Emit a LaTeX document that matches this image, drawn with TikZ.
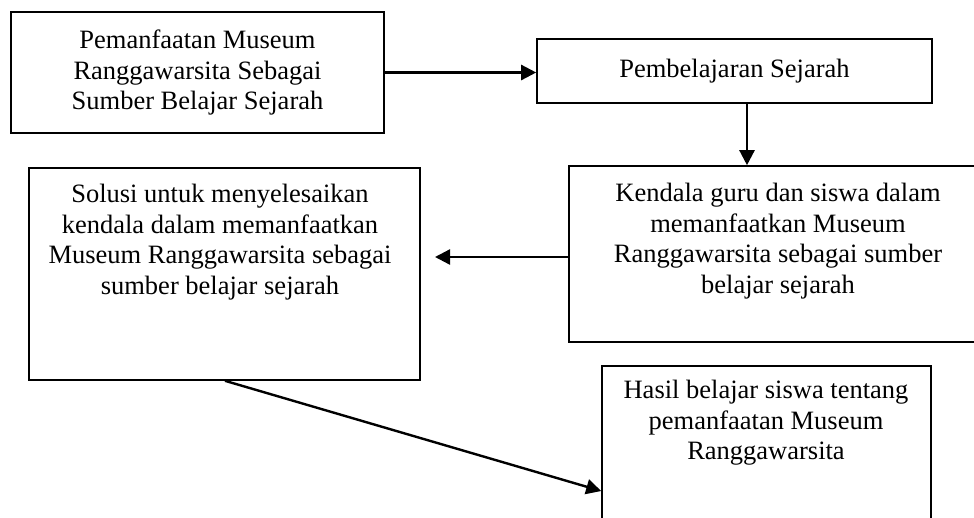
\documentclass[tikz,border=0pt]{standalone}
\usepackage{fontspec}
\setmainfont{Liberation Serif}
\usetikzlibrary{arrows.meta}
\begin{document}
\begin{tikzpicture}[x=1pt,y=-1pt,
  box/.style={draw, line width=1.6pt, inner sep=0pt, align=center,
    font=\fontsize{26.5pt}{30.5pt}\selectfont},
  txt/.style={inner sep=0pt, align=center, font=\fontsize{26.5pt}{30.5pt}\selectfont},
  arr/.style={line width=2.4pt, -{Triangle[length=15pt,width=15pt]}}]
\useasboundingbox (0,0) rectangle (974,517);
\clip (0,0) rectangle (974,517);
\node[box, minimum width=373pt, minimum height=121pt] (b1) at (197.5,72.5)
  {Pemanfaatan Museum\\Ranggawarsita Sebagai\\Sumber Belajar Sejarah};
\node[box, minimum width=395pt, minimum height=64pt] (b2) at (734.5,71)
  {Pembelajaran Sejarah};
\node[box, minimum width=421pt, minimum height=176pt] (b3) at (779.5,254) {};
\node[txt] (t3) at (778,241)
  {Kendala guru dan siswa dalam\\memanfaatkan Museum\\Ranggawarsita sebagai sumber\\belajar sejarah};
\node[box, minimum width=391pt, minimum height=212pt] (b4) at (224.5,274) {};
\node[txt] (t4) at (220,242)
  {Solusi untuk menyelesaikan\\kendala dalam memanfaatkan\\Museum Ranggawarsita sebagai\\sumber belajar sejarah};
\node[box, minimum width=329pt, minimum height=174pt] (b5) at (766.5,453) {};
\node[txt] (t5) at (766,423)
  {Hasil belajar siswa tentang\\pemanfaatan Museum\\Ranggawarsita};
\coordinate (tip) at (435,257);
\draw[arr] (b1.east) -- (b1.east -| b2.west);
\draw[arr] (b2.south -| 747,0) -- (b3.north -| 747,0);
\draw[arr] (b3.west |- tip) -- (tip);
\draw[arr] (b4.south -| 225,0) -- (b5.west |- 0,491);
\end{tikzpicture}
\end{document}
